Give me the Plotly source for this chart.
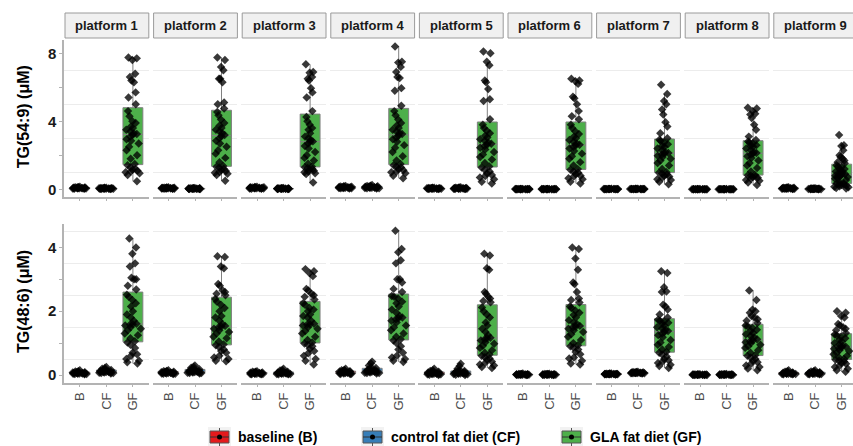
import plotly.graph_objects as go

# ---------------------------------------------------------------- data
platforms = [f"platform {i}" for i in range(1, 10)]
groups = ["B", "CF", "GF"]
group_names = ["baseline (B)", "control fat diet (CF)", "GLA fat diet (GF)"]
group_colors = ["#E41A1C", "#377EB8", "#4DAF4A"]

# TG(54:9), µM — one list per platform
tg549_B = [
    [0.05, 0.08, 0.10, 0.06, 0.12, 0.04, 0.09, 0.07, 0.11, 0.05, 0.13, 0.08, 0.06, 0.10, 0.04, 0.09, 0.15, 0.07, 0.12, 0.06],
    [0.04, 0.07, 0.09, 0.05, 0.11, 0.06, 0.08, 0.03, 0.10, 0.07, 0.12, 0.05, 0.06, 0.09, 0.04, 0.08, 0.10, 0.06, 0.07, 0.05],
    [0.05, 0.09, 0.12, 0.06, 0.15, 0.04, 0.10, 0.07, 0.13, 0.05, 0.11, 0.08, 0.06, 0.14, 0.03, 0.09, 0.12, 0.07, 0.10, 0.06],
    [0.08, 0.12, 0.15, 0.10, 0.18, 0.06, 0.13, 0.09, 0.20, 0.07, 0.14, 0.11, 0.10, 0.16, 0.05, 0.12, 0.17, 0.09, 0.13, 0.08],
    [0.03, 0.05, 0.07, 0.04, 0.09, 0.02, 0.06, 0.05, 0.08, 0.03, 0.10, 0.04, 0.06, 0.07, 0.02, 0.05, 0.08, 0.04, 0.06, 0.03],
    [0.005, 0.012, 0.018, 0.008, 0.025, 0.003, 0.015, 0.010, 0.022, 0.006, 0.028, 0.013, 0.017, 0.009, 0.001, 0.020, 0.011, 0.024, 0.007, 0.016],
    [0.012, 0.018, 0.022, 0.015, 0.028, 0.010, 0.020, 0.014, 0.025, 0.017, 0.030, 0.013, 0.021, 0.016, 0.008, 0.019, 0.023, 0.011, 0.026, 0.018],
    [0.004, 0.008, 0.012, 0.006, 0.015, 0.002, 0.010, 0.007, 0.013, 0.005, 0.016, 0.009, 0.011, 0.003, 0.014, 0.008, 0.010, 0.006, 0.012, 0.007],
    [0.03, 0.06, 0.09, 0.04, 0.12, 0.05, 0.07, 0.02, 0.10, 0.05, 0.08, 0.04, 0.06, 0.11, 0.03, 0.07, 0.09, 0.05, 0.06, 0.04],
]
tg549_CF = [
    [0.03, 0.05, 0.07, 0.04, 0.09, 0.02, 0.06, 0.05, 0.08, 0.03, 0.10, 0.04, 0.06, 0.07, 0.02, 0.05, 0.08, 0.04, 0.06, 0.03],
    [0.02, 0.04, 0.06, 0.03, 0.07, 0.02, 0.05, 0.04, 0.08, 0.03, 0.05, 0.04, 0.06, 0.03, 0.02, 0.05, 0.07, 0.04, 0.05, 0.03],
    [0.02, 0.04, 0.05, 0.03, 0.07, 0.02, 0.05, 0.04, 0.08, 0.03, 0.06, 0.04, 0.05, 0.03, 0.02, 0.05, 0.06, 0.04, 0.05, 0.03],
    [0.07, 0.12, 0.18, 0.09, 0.22, 0.06, 0.14, 0.10, 0.25, 0.08, 0.16, 0.11, 0.13, 0.19, 0.05, 0.12, 0.20, 0.09, 0.15, 0.10],
    [0.03, 0.06, 0.08, 0.04, 0.11, 0.02, 0.07, 0.05, 0.12, 0.03, 0.09, 0.05, 0.06, 0.10, 0.02, 0.06, 0.08, 0.04, 0.07, 0.04],
    [0.004, 0.011, 0.019, 0.007, 0.024, 0.002, 0.014, 0.009, 0.021, 0.005, 0.027, 0.012, 0.016, 0.008, 0.001, 0.018, 0.010, 0.023, 0.006, 0.015],
    [0.014, 0.020, 0.024, 0.017, 0.030, 0.011, 0.022, 0.016, 0.027, 0.019, 0.032, 0.015, 0.023, 0.018, 0.009, 0.021, 0.025, 0.013, 0.028, 0.020],
    [0.003, 0.007, 0.011, 0.005, 0.014, 0.001, 0.009, 0.006, 0.012, 0.004, 0.015, 0.008, 0.010, 0.002, 0.013, 0.007, 0.009, 0.005, 0.011, 0.006],
    [0.01, 0.03, 0.04, 0.02, 0.06, 0.01, 0.03, 0.02, 0.05, 0.02, 0.04, 0.03, 0.02, 0.05, 0.01, 0.03, 0.04, 0.02, 0.03, 0.02],
]
tg549_GF = [
    [0.48, 0.85, 0.95, 1.0, 1.05, 1.1, 1.15, 1.2, 1.3, 1.42, 1.49, 1.8, 2.0, 2.3, 2.5, 2.7, 2.85, 2.95, 3.1, 3.2,
     3.26, 3.3, 3.4, 3.5, 3.6, 3.7, 3.9, 4.0, 4.3, 4.6, 5.0, 5.4, 5.7, 6.3, 6.4, 6.6, 6.8, 7.6, 7.7, 7.75],
    [0.5, 0.85, 0.92, 0.98, 1.02, 1.08, 1.12, 1.2, 1.28, 1.33, 1.38, 1.6, 1.85, 2.1, 2.3, 2.5, 2.7, 2.85, 3.0, 3.12,
     3.2, 3.3, 3.4, 3.5, 3.6, 3.75, 3.9, 4.1, 4.35, 4.55, 4.75, 5.0, 5.1, 6.3, 6.5, 6.5, 7.0, 7.2, 7.6, 7.75],
    [0.4, 0.9, 0.95, 1.0, 1.05, 1.1, 1.15, 1.2, 1.25, 1.3, 1.34, 1.5, 1.7, 1.85, 2.0, 2.2, 2.4, 2.55, 2.7, 2.78,
     2.82, 2.9, 3.0, 3.1, 3.3, 3.5, 3.6, 3.8, 4.0, 4.25, 4.6, 5.4, 5.7, 5.95, 6.4, 6.5, 6.6, 6.85, 6.9, 7.35],
    [0.65, 0.8, 0.95, 1.0, 1.05, 1.12, 1.2, 1.28, 1.35, 1.42, 1.49, 1.7, 1.95, 2.2, 2.45, 2.6, 2.8, 2.95, 3.05, 3.15,
     3.25, 3.3, 3.4, 3.5, 3.6, 3.75, 3.9, 4.1, 4.35, 4.6, 4.92, 5.8, 5.95, 6.55, 6.6, 6.9, 7.2, 7.45, 7.5, 8.4],
    [0.35, 0.45, 0.6, 0.7, 0.78, 0.85, 0.95, 1.05, 1.15, 1.28, 1.35, 1.55, 1.75, 1.9, 2.05, 2.2, 2.35, 2.45, 2.55, 2.62,
     2.68, 2.75, 2.85, 2.95, 3.05, 3.15, 3.3, 3.45, 3.6, 3.8, 4.12, 5.2, 5.3, 5.9, 6.3, 6.4, 7.3, 7.5, 8.0, 8.1],
    [0.35, 0.45, 0.6, 0.65, 0.75, 0.8, 0.9, 0.98, 1.05, 1.15, 1.19, 1.4, 1.6, 1.8, 1.95, 2.1, 2.25, 2.4, 2.5, 2.58,
     2.62, 2.7, 2.8, 2.9, 3.0, 3.1, 3.25, 3.4, 3.6, 3.8, 4.12, 4.3, 4.6, 5.0, 5.35, 5.45, 6.2, 6.35, 6.4, 6.5],
    [0.3, 0.45, 0.55, 0.6, 0.7, 0.75, 0.8, 0.88, 0.93, 0.97, 1.0, 1.2, 1.4, 1.55, 1.7, 1.8, 1.9, 1.98, 2.05, 2.1,
     2.14, 2.2, 2.3, 2.4, 2.5, 2.55, 2.65, 2.75, 2.85, 2.92, 3.0, 3.3, 3.7, 3.95, 4.4, 4.7, 5.0, 5.2, 5.6, 6.15],
    [0.26, 0.4, 0.5, 0.55, 0.62, 0.68, 0.72, 0.76, 0.8, 0.83, 0.85, 1.05, 1.25, 1.4, 1.55, 1.7, 1.85, 1.95, 2.05, 2.1,
     2.14, 2.2, 2.3, 2.4, 2.5, 2.55, 2.6, 2.7, 2.75, 2.82, 2.9, 3.1, 3.5, 3.8, 4.2, 4.4, 4.45, 4.6, 4.75, 4.8],
    [0.05, 0.08, 0.12, 0.15, 0.18, 0.22, 0.25, 0.28, 0.31, 0.34, 0.36, 0.45, 0.55, 0.62, 0.68, 0.72, 0.76, 0.8, 0.84, 0.86,
     0.9, 0.95, 1.0, 1.05, 1.1, 1.15, 1.2, 1.28, 1.35, 1.42, 1.54, 1.6, 1.7, 1.8, 1.9, 2.0, 2.3, 2.55, 2.6, 3.2],
]

# TG(48:6), µM — one list per platform
tg486_B = [
    [0.03, 0.06, 0.09, 0.04, 0.12, 0.02, 0.07, 0.05, 0.15, 0.04, 0.10, 0.06, 0.08, 0.11, 0.03, 0.07, 0.09, 0.05, 0.06, 0.04],
    [0.04, 0.07, 0.10, 0.05, 0.13, 0.03, 0.08, 0.06, 0.15, 0.05, 0.11, 0.07, 0.09, 0.12, 0.04, 0.08, 0.10, 0.06, 0.07, 0.05],
    [0.03, 0.05, 0.08, 0.04, 0.10, 0.02, 0.06, 0.05, 0.12, 0.03, 0.09, 0.05, 0.07, 0.10, 0.02, 0.06, 0.08, 0.04, 0.06, 0.04],
    [0.04, 0.08, 0.12, 0.05, 0.16, 0.03, 0.10, 0.07, 0.20, 0.05, 0.14, 0.08, 0.11, 0.15, 0.03, 0.09, 0.12, 0.06, 0.08, 0.05],
    [0.02, 0.05, 0.09, 0.03, 0.13, 0.01, 0.07, 0.04, 0.20, 0.02, 0.11, 0.05, 0.08, 0.15, 0.00, 0.06, 0.10, 0.03, 0.05, 0.04],
    [0.006, 0.014, 0.022, 0.010, 0.032, 0.003, 0.018, 0.012, 0.045, 0.008, 0.027, 0.016, 0.020, 0.036, 0.001, 0.015, 0.025, 0.009, 0.019, 0.011],
    [0.022, 0.028, 0.035, 0.025, 0.045, 0.020, 0.031, 0.024, 0.040, 0.027, 0.038, 0.029, 0.033, 0.048, 0.018, 0.030, 0.036, 0.026, 0.032, 0.023],
    [0.004, 0.008, 0.013, 0.006, 0.022, 0.002, 0.010, 0.007, 0.018, 0.005, 0.015, 0.009, 0.011, 0.020, 0.001, 0.012, 0.016, 0.003, 0.014, 0.007],
    [0.03, 0.05, 0.08, 0.04, 0.12, 0.02, 0.06, 0.04, 0.15, 0.03, 0.09, 0.05, 0.07, 0.10, 0.02, 0.06, 0.08, 0.04, 0.05, 0.04],
]
tg486_CF = [
    [0.06, 0.10, 0.15, 0.08, 0.20, 0.05, 0.12, 0.09, 0.25, 0.07, 0.17, 0.10, 0.13, 0.22, 0.06, 0.11, 0.16, 0.08, 0.12, 0.09],
    [0.06, 0.11, 0.17, 0.08, 0.23, 0.05, 0.13, 0.09, 0.30, 0.07, 0.19, 0.10, 0.14, 0.26, 0.06, 0.12, 0.18, 0.08, 0.13, 0.10],
    [0.03, 0.06, 0.10, 0.04, 0.14, 0.02, 0.08, 0.05, 0.20, 0.03, 0.11, 0.06, 0.07, 0.16, 0.02, 0.06, 0.09, 0.04, 0.07, 0.05],
    [0.06, 0.12, 0.20, 0.09, 0.30, 0.05, 0.15, 0.10, 0.42, 0.07, 0.24, 0.11, 0.16, 0.36, 0.06, 0.13, 0.22, 0.08, 0.14, 0.10],
    [0.02, 0.06, 0.12, 0.04, 0.20, 0.01, 0.09, 0.05, 0.35, 0.03, 0.15, 0.06, 0.10, 0.28, 0.00, 0.07, 0.13, 0.04, 0.08, 0.05],
    [0.005, 0.013, 0.021, 0.009, 0.030, 0.002, 0.017, 0.011, 0.042, 0.007, 0.026, 0.015, 0.019, 0.034, 0.001, 0.014, 0.024, 0.008, 0.018, 0.010],
    [0.058, 0.066, 0.082, 0.061, 0.098, 0.052, 0.075, 0.063, 0.102, 0.055, 0.085, 0.069, 0.072, 0.092, 0.050, 0.070, 0.079, 0.060, 0.074, 0.064],
    [0.005, 0.010, 0.016, 0.007, 0.026, 0.003, 0.012, 0.008, 0.030, 0.004, 0.019, 0.011, 0.014, 0.023, 0.001, 0.013, 0.018, 0.006, 0.015, 0.009],
    [0.03, 0.05, 0.09, 0.04, 0.12, 0.02, 0.07, 0.05, 0.15, 0.03, 0.10, 0.05, 0.07, 0.11, 0.02, 0.06, 0.08, 0.04, 0.06, 0.04],
]
tg486_GF = [
    [0.36, 0.4, 0.45, 0.5, 0.6, 0.65, 0.7, 0.85, 0.95, 1.02, 1.06, 1.15, 1.25, 1.3, 1.4, 1.45, 1.5, 1.55, 1.58, 1.59,
     1.61, 1.7, 1.8, 1.9, 2.0, 2.15, 2.25, 2.35, 2.45, 2.52, 2.68, 2.8, 3.0, 3.0, 3.05, 3.4, 3.5, 3.8, 4.0, 4.28],
    [0.43, 0.45, 0.5, 0.55, 0.6, 0.7, 0.75, 0.8, 0.88, 0.93, 0.96, 1.05, 1.15, 1.2, 1.3, 1.35, 1.4, 1.45, 1.5, 1.52,
     1.54, 1.6, 1.7, 1.8, 1.85, 2.0, 2.1, 2.2, 2.3, 2.38, 2.5, 2.55, 2.6, 2.65, 2.8, 2.85, 3.35, 3.4, 3.7, 3.72],
    [0.33, 0.45, 0.5, 0.6, 0.68, 0.75, 0.82, 0.9, 0.95, 0.99, 1.02, 1.1, 1.2, 1.3, 1.38, 1.45, 1.5, 1.55, 1.58, 1.59,
     1.61, 1.7, 1.8, 1.85, 1.9, 2.0, 2.05, 2.1, 2.2, 2.25, 2.37, 2.45, 2.5, 2.55, 2.65, 2.7, 3.1, 3.2, 3.25, 3.32],
    [0.41, 0.45, 0.5, 0.55, 0.6, 0.7, 0.8, 0.9, 1.0, 1.08, 1.12, 1.2, 1.3, 1.4, 1.5, 1.55, 1.65, 1.7, 1.75, 1.78,
     1.8, 1.85, 1.95, 2.05, 2.15, 2.25, 2.3, 2.4, 2.45, 2.48, 2.6, 2.7, 2.9, 3.0, 3.0, 3.5, 3.6, 3.85, 3.95, 4.52],
    [0.22, 0.25, 0.3, 0.33, 0.38, 0.42, 0.48, 0.52, 0.56, 0.6, 0.64, 0.7, 0.78, 0.85, 0.92, 0.98, 1.03, 1.08, 1.12, 1.15,
     1.17, 1.25, 1.35, 1.45, 1.55, 1.65, 1.8, 1.9, 2.0, 2.12, 2.28, 2.32, 2.4, 2.45, 2.55, 2.6, 3.3, 3.35, 3.75, 3.8],
    [0.33, 0.36, 0.45, 0.52, 0.55, 0.65, 0.72, 0.8, 0.86, 0.9, 0.93, 1.0, 1.1, 1.2, 1.28, 1.35, 1.4, 1.45, 1.5, 1.52,
     1.54, 1.6, 1.65, 1.72, 1.8, 1.88, 1.95, 2.02, 2.1, 2.15, 2.27, 2.35, 2.4, 2.6, 2.85, 2.9, 3.3, 3.65, 3.95, 4.0],
    [0.22, 0.28, 0.32, 0.38, 0.42, 0.46, 0.5, 0.58, 0.64, 0.7, 0.73, 0.8, 0.88, 0.95, 1.02, 1.1, 1.18, 1.25, 1.3, 1.34,
     1.38, 1.42, 1.46, 1.5, 1.55, 1.6, 1.64, 1.68, 1.7, 1.73, 1.8, 1.9, 2.05, 2.15, 2.2, 2.6, 2.62, 2.75, 3.2, 3.25],
    [0.15, 0.2, 0.25, 0.3, 0.35, 0.4, 0.45, 0.5, 0.55, 0.6, 0.62, 0.7, 0.78, 0.85, 0.9, 0.95, 1.0, 1.03, 1.06, 1.08,
     1.12, 1.18, 1.22, 1.28, 1.32, 1.38, 1.42, 1.48, 1.52, 1.55, 1.63, 1.7, 1.75, 1.8, 1.85, 1.95, 2.0, 2.05, 2.35, 2.65],
    [0.1, 0.15, 0.2, 0.25, 0.3, 0.35, 0.38, 0.42, 0.45, 0.48, 0.5, 0.55, 0.6, 0.65, 0.7, 0.75, 0.78, 0.82, 0.85, 0.87,
     0.89, 0.92, 0.95, 1.0, 1.05, 1.1, 1.15, 1.2, 1.24, 1.27, 1.32, 1.4, 1.45, 1.5, 1.55, 1.6, 1.8, 1.85, 1.95, 2.0],
]

rows = [
    {"title": "TG(54:9) (\u03bcM)", "data": [tg549_B, tg549_CF, tg549_GF],
     "ticks": [0, 2, 4, 6, 8], "labels": ["0", "", "4", "", "8"], "grid": [1, 3, 5, 7]},
    {"title": "TG(48:6) (\u03bcM)", "data": [tg486_B, tg486_CF, tg486_GF],
     "ticks": [0, 1, 2, 3, 4], "labels": ["0", "", "2", "", "4"], "grid": [0.5, 1.5, 2.5, 3.5, 4.5]},
]

# ---------------------------------------------------------------- layout geometry (pixels)
W, H = 853, 446
FONT = "Liberation Sans, Arial, sans-serif"
AXIS_GREY = "#b3b3b3"
panel_left0, panel_step, panel_w = 64.0, 88.6, 84.8
unit_px = panel_w / 3.2
row_px = [(40.0, 196.5), (223.5, 382.5)]
row_range = [[-0.42, 8.78], [-0.235, 4.75]]
strip_px = (13.0, 38.0)


def fx(p):
    return p / W


def fy(p):
    return 1 - p / H


fig = go.Figure()
layout = dict(
    width=W, height=H, margin=dict(l=0, r=0, t=0, b=0),
    paper_bgcolor="white", plot_bgcolor="white",
    showlegend=False, font=dict(family=FONT, color="#1a1a1a"),
    shapes=[], annotations=[],
)

for r, row in enumerate(rows):
    top, bot = row_px[r]
    for c in range(len(platforms)):
        k = r * len(platforms) + c + 1
        xa, ya = f"xaxis{k}", f"yaxis{k}"
        left = panel_left0 + panel_step * c
        right = min(left + panel_w, W)
        layout[xa] = dict(
            domain=[fx(left), fx(right)], anchor=f"y{k}",
            range=[-0.6, -0.6 + (right - left) / unit_px],
            tickmode="array", tickvals=[0, 1, 2], ticktext=groups,
            showline=True, linecolor=AXIS_GREY, linewidth=1.5,
            ticks="outside", ticklen=3, tickcolor=AXIS_GREY, tickwidth=1,
            showgrid=False, zeroline=False,
            showticklabels=(r == 1), tickangle=-90,
            tickfont=dict(family=FONT, size=13, color="#4d4d4d"),
        )
        layout[ya] = dict(
            domain=[fy(bot), fy(top)], anchor=f"x{k}", range=row_range[r],
            tickmode="array", tickvals=row["ticks"], ticktext=row["labels"],
            showgrid=False, zeroline=False,
            minor=dict(tickmode="array", tickvals=row["grid"], showgrid=True,
                       gridcolor="#ececec", gridwidth=1, ticks=""),
            showline=(c == 0), linecolor=AXIS_GREY, linewidth=1.5,
            ticks="outside" if c == 0 else "", ticklen=3, tickcolor=AXIS_GREY,
            showticklabels=(c == 0),
            tickfont=dict(family=FONT, size=15, color="#1a1a1a", weight="bold"),
        )
        for g, vals in enumerate(row["data"]):
            ys = vals[c]
            fig.add_trace(go.Box(
                x=[g] * len(ys), y=ys, xaxis=f"x{k}", yaxis=f"y{k}",
                width=0.75, boxpoints="all", jitter=0.9, pointpos=0,
                fillcolor=group_colors[g], whiskerwidth=0,
                line=dict(color="#808080", width=1),
                marker=dict(symbol="diamond", size=6.5, color="rgba(0,0,0,0.78)"),
                hoverinfo="skip", showlegend=False,
            ))

        # facet strips above the top row
        if r == 0:
            sl, sr = left + 1, left + panel_w
            layout["shapes"].append(dict(
                type="rect", xref="paper", yref="paper",
                x0=fx(sl), x1=fx(sr), y0=fy(strip_px[1]), y1=fy(strip_px[0]),
                fillcolor="#f0f0f0", line=dict(color="#9a9a9a", width=1), layer="above",
            ))
            layout["annotations"].append(dict(
                xref="paper", yref="paper", x=fx((sl + sr) / 2), y=fy(sum(strip_px) / 2),
                text=platforms[c], showarrow=False, xanchor="center", yanchor="middle",
                font=dict(family=FONT, size=13, color="#1a1a1a", weight="bold"),
            ))

    # row title on the left
    layout["annotations"].append(dict(
        xref="paper", yref="paper", x=fx(23), y=fy((top + bot) / 2 - 1),
        text=row["title"], textangle=-90, showarrow=False,
        xanchor="center", yanchor="middle",
        font=dict(family=FONT, size=16, color="#000000", weight="bold"),
    ))

# ---------------------------------------------------------------- legend
legend_key_x = [210, 363, 562]
key_y0, key_y1 = 431, 443
for g, name in enumerate(group_names):
    kx = legend_key_x[g]
    mid_x, mid_y = kx + 9.5, (key_y0 + key_y1) / 2
    layout["shapes"] += [
        dict(type="rect", xref="paper", yref="paper", x0=fx(kx - 2), x1=fx(kx + 21),
             y0=fy(446), y1=fy(427), fillcolor="#f2f2f2", line=dict(width=0)),
        dict(type="line", xref="paper", yref="paper", x0=fx(mid_x), x1=fx(mid_x),
             y0=fy(446), y1=fy(428), line=dict(color="#555555", width=1)),
        dict(type="rect", xref="paper", yref="paper", x0=fx(kx), x1=fx(kx + 19),
             y0=fy(key_y1), y1=fy(key_y0), fillcolor=group_colors[g],
             line=dict(color="#555555", width=1)),
        dict(type="line", xref="paper", yref="paper", x0=fx(kx), x1=fx(kx + 19),
             y0=fy(mid_y), y1=fy(mid_y), line=dict(color="#333333", width=1)),
        dict(type="circle", xref="paper", yref="paper", x0=fx(mid_x - 2.5), x1=fx(mid_x + 2.5),
             y0=fy(mid_y + 2.5), y1=fy(mid_y - 2.5), fillcolor="#000000", line=dict(width=0)),
    ]
    layout["annotations"].append(dict(
        xref="paper", yref="paper", x=fx(kx + 26), y=fy(437), text=name,
        showarrow=False, xanchor="left", yanchor="middle",
        font=dict(family=FONT, size=14, color="#000000", weight="bold"),
    ))

fig.update_layout(**layout)
fig.write_html("out.html")
